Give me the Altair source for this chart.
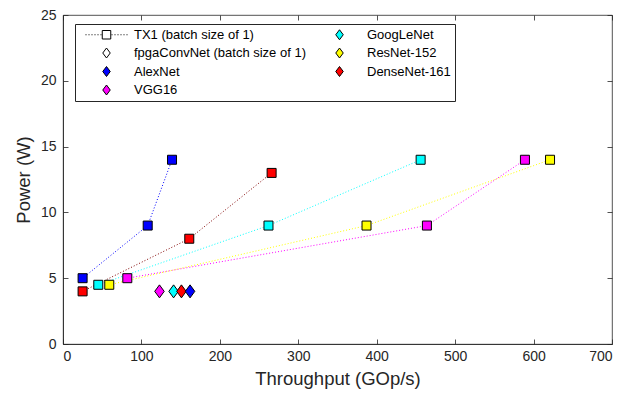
import altair as alt
import pandas as pd

FONT = "Liberation Sans"

# ---- data ----
networks = ["AlexNet", "VGG16", "GoogLeNet", "ResNet-152", "DenseNet-161"]
marker_colors = ["#0000ff", "#ff00ff", "#00ffff", "#ffff00", "#ff0000"]
line_colors = ["#0000ff", "#ff00ff", "#00ffff", "#ffff00", "#800000"]

alexnet_tx1_x = [25, 108, 139]
alexnet_tx1_y = [5, 9, 14]
vgg16_tx1_x = [82, 464, 589]
vgg16_tx1_y = [5, 9, 14]
googlenet_tx1_x = [45, 262, 456]
googlenet_tx1_y = [4.5, 9, 14]
resnet_tx1_x = [59, 387, 621]
resnet_tx1_y = [4.5, 9, 14]
densenet_tx1_x = [25, 161, 266]
densenet_tx1_y = [4, 8, 13]

fpga_networks = ["VGG16", "GoogLeNet", "DenseNet-161", "AlexNet"]
fpga_x = [123, 141, 151, 162]
fpga_y = [4, 4, 4, 4]

x_ticks = [0, 100, 200, 300, 400, 500, 600, 700]
y_ticks = [0, 5, 10, 15, 20, 25]

legend_entries = ["TX1 (batch size of 1)", "fpgaConvNet (batch size of 1)",
                  "AlexNet", "VGG16", "GoogLeNet", "ResNet-152", "DenseNet-161"]
legend_fills = ["#ffffff", "#ffffff", "#0000ff", "#ff00ff", "#00ffff", "#ffff00", "#ff0000"]

# ---- tables ----
tx1_series = [
    ("AlexNet", alexnet_tx1_x, alexnet_tx1_y),
    ("VGG16", vgg16_tx1_x, vgg16_tx1_y),
    ("GoogLeNet", googlenet_tx1_x, googlenet_tx1_y),
    ("ResNet-152", resnet_tx1_x, resnet_tx1_y),
    ("DenseNet-161", densenet_tx1_x, densenet_tx1_y),
]
rows = []
for name, xs, ys in tx1_series:
    for xv, yv in zip(xs, ys):
        rows.append({"network": name, "throughput": xv, "power": yv})
df_tx1 = pd.DataFrame(rows)
df_fpga = pd.DataFrame({"network": fpga_networks, "throughput": fpga_x, "power": fpga_y})
df_leg = pd.DataFrame({"entry": legend_entries})

# ---- symbol shapes ----
DIAMOND = "M0,-1.3L0.95,0L0,1.3L-0.95,0Z"
S = 4.2  # horizontal shift of legend glyphs (units of sqrt(size)/2)

dots = ""
v = 1.1
while v <= 4.3:
    dots += f"M{S - v - 0.1:.2f},0h0.2M{S + v - 0.1:.2f},0h0.2"
    v += 0.6
leg_square = f"M-1,0M{S-0.85:.2f},-0.85H{S+0.85:.2f}V0.85H{S-0.85:.2f}Z" + dots
leg_diamond = f"M-1,0M{S:.2f},-1.0L{S+0.75:.2f},0L{S:.2f},1.0L{S-0.75:.2f},0Z"
legend_shapes = [leg_square] + [leg_diamond] * 6

xenc = alt.X("throughput:Q", scale=alt.Scale(domain=[0, 700], nice=False),
             axis=alt.Axis(values=x_ticks, title="Throughput (GOp/s)"))
yenc = alt.Y("power:Q", scale=alt.Scale(domain=[0, 25], nice=False),
             axis=alt.Axis(values=y_ticks, title="Power (W)"))

lines = alt.Chart(df_tx1).mark_line(strokeDash=[1, 2], strokeWidth=1).encode(
    x=xenc, y=yenc,
    color=alt.Color("network:N", scale=alt.Scale(domain=networks, range=line_colors), legend=None),
    detail="network:N",
)
squares = alt.Chart(df_tx1).mark_point(shape="square", size=81, filled=True, stroke="black",
                                        strokeWidth=1, opacity=1).encode(
    x=xenc, y=yenc,
    fill=alt.Fill("network:N", scale=alt.Scale(domain=networks, range=marker_colors), legend=None),
)
diamonds = alt.Chart(df_fpga).mark_point(shape=DIAMOND, size=100, filled=True,
                                         strokeWidth=1, opacity=1).encode(
    x=xenc, y=yenc,
    fill=alt.Fill("network:N", scale=alt.Scale(domain=networks, range=marker_colors), legend=None),
    stroke=alt.value("black"),
)
leg = alt.Legend(title=None, orient="none", legendX=12, legendY=9, columns=2,
                 direction="vertical", labelLimit=400)
legend_layer = alt.Chart(df_leg).mark_point(size=100, filled=True,
                                             strokeWidth=1, opacity=0).encode(
    shape=alt.Shape("entry:N", scale=alt.Scale(domain=legend_entries, range=legend_shapes), legend=leg),
    fill=alt.Fill("entry:N", scale=alt.Scale(domain=legend_entries, range=legend_fills), legend=leg),
    stroke=alt.Stroke("entry:N", scale=alt.Scale(domain=legend_entries, range=["#000000"] * 7), legend=leg),
)

chart = alt.layer(lines, squares, diamonds, legend_layer).resolve_scale(
    fill="independent", shape="independent", color="independent", stroke="independent"
).properties(
    width=549, height=329,
    autosize=alt.AutoSizeParams(type="none"),
    padding={"left": 55, "top": 7, "right": 18, "bottom": 50},
).configure_axis(
    labelFont=FONT, titleFont=FONT, labelFontSize=14, titleFontSize=18.5,
    titleFontWeight="normal", labelColor="#262626", titleColor="#262626",
    domainColor="#262626", domainWidth=0.8, tickSize=0, grid=True,
    gridColor="#262626", gridOpacity=1, gridWidth=0.8,
).configure_axisX(
    gridDash=[5, 319, 5, 400], labelPadding=5, titlePadding=6,
).configure_axisY(
    gridDash=[5, 539, 5, 600], labelPadding=7, titlePadding=7,
).configure_view(
    stroke="#262626", strokeWidth=0.8,
).configure_legend(
    strokeColor="#262626", fillColor="#ffffff", padding=4, labelFont=FONT,
    labelFontSize=13, labelColor="#000000", columnPadding=5, rowPadding=3.5,
    labelOffset=42, symbolStrokeColor="black", symbolStrokeWidth=1,
    symbolOpacity=1, symbolSize=100, labelLimit=400,
)

chart.save("out.html", embed_options={"renderer": "svg", "actions": False})
